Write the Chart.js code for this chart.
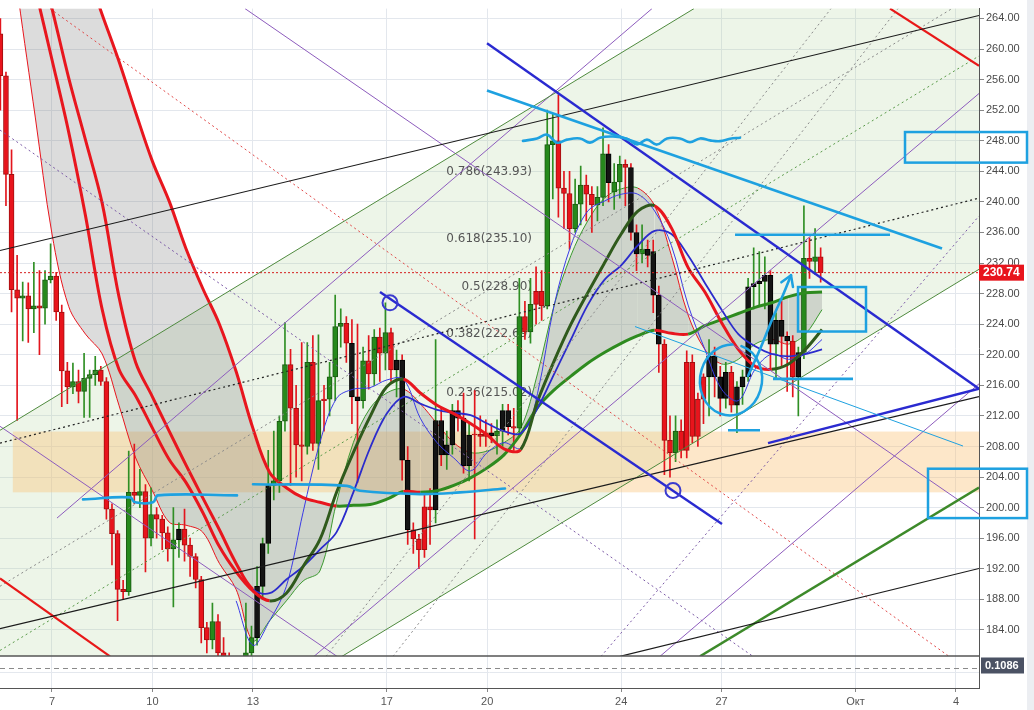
<!DOCTYPE html>
<html><head><meta charset="utf-8">
<script src="https://cdn.jsdelivr.net/npm/chart.js@4.4.1/dist/chart.umd.min.js"></script>
<style>html,body{margin:0;padding:0;background:#fff;overflow:hidden}#wrap{width:1034px;height:710px;position:relative}</style>
</head><body><div id="wrap"><canvas id="c"></canvas></div>
<script>
// ===== DATA =====
// 4-hour candles, first bar 5 Sep 11:00, one bar every 4 hours
const firstBarDay = 5 + 11/24;
const barStepDays = 4/24;
const opens = [262,256.5,243.6,228.5,227.4,227.7,226,226.4,226.1,229.8,
230.3,225.6,217.9,215.8,216.5,215.2,216.9,217.4,218,216.5,
199.8,196.6,189.3,189,202,201.6,202.1,196,199.1,198.5,
196.7,194.6,195.8,197.2,195.1,193.6,190.6,184.3,182.7,185.1,
181,178,175,177,176,181,183,189.7,195.3,202.9,
203.5,211.3,218.7,213,208.2,208,219,208.4,214,214.2,
217.1,223.7,224.1,221.5,214.5,214,219.2,217.5,222.3,220.2,
222.9,218,219.3,206.2,197.1,195.9,194.5,200.1,199.7,211.4,
206.9,208.2,212.7,211.7,205.5,209.5,209.6,209.3,209.8,209.4,
210,212.7,210.6,210.4,225,223,226.6,228.3,226.4,247.5,
248,241.8,241.1,236.5,239.7,242.2,241,239.6,240.6,246.3,
241.3,242.6,244.9,244.5,236,233.2,233.8,233.5,227.8,221.4,
208.8,207.2,210,207.5,219,209.3,214.2,217.1,219.8,217.1,
214.3,217.7,213.4,215.8,217.1,228.9,229.3,229.6,230.4,221.4,
224.5,222.4,221.8,217.1,220.3,232.6,232.2,232.8];
const highs = [264,257,246.8,233,229.5,229.4,232.1,231,231,234.5,
230.8,226.5,219,218.9,218,220.2,218,219.8,218.5,217,
200.5,197,190.5,207.4,208.3,205,203,202.6,200,199,
197.5,200,198,199.8,196,194,191,185,187.5,186,
183,181,179,180,187.5,184.5,192.3,196,207.5,210,
212,224.2,220.7,216,221.6,221.6,222.5,222.6,216,219,
227.8,226,225,224.6,224,221,222.5,223.3,223.5,226.8,
223.5,220.6,220,208,198,196.5,202,202.5,222,213,
210,213.5,214,215,211,215.3,212,211.5,211,211.5,
213.5,213.5,213,230,227,230,231.5,231,252,251.5,
254,244,244,243,244.7,243.5,242,242,249.7,247.5,
245,246,245.5,245,237,237,235,235,229,222,
212,212,211.5,220.5,220,215,217.5,222,221,218.5,
219,218.5,216.5,218,230,234,233.5,232.8,231,225.5,
227,223,222.5,221,239.5,235.3,236.5,234];
const lows = [252,239.5,225.6,211.4,221.8,221.6,222.9,220,224,229.4,
224.5,213.2,213.6,214.9,213.7,211.8,211.8,216,216,198.5,
192.5,185.2,188,188.5,200.5,200,191.6,195,196,194.5,
193,187,193.5,193,191,189.5,182.3,181,181.5,179,
176,172,170,171,175,179,182,188,194,201,
202,210,202.9,204,203.5,207,207.5,205,210,212,
214,221,219,211,203.3,213,215.5,216,216.5,218,
216.5,214.5,203.6,195.2,194,192,193.5,195.2,198,205.5,
205,207,210,204.5,203.5,195.9,208,208,208.5,207,
208,209.5,207.5,209.5,222,221.5,224,224.5,226,240.4,
238,236.5,233.8,236,237,237.5,236,237.5,239.5,240,
239,240.5,239.5,235,231,232,231.5,225.5,217.7,204.3,
204,206,206.5,206.5,208.5,208,211,212,214.5,212,
213,212.5,209.8,213.5,216.5,226,226.5,226,218,217,
218.5,215.2,214.5,212,219.5,230,230.5,229.5];
const closes = [256.5,243.6,228.5,227.4,227.7,226,226.4,226.1,229.8,230.3,
225.6,217.9,215.8,216.5,215.2,216.9,217.4,218,216.5,199.8,
196.6,189.3,189,202,201.6,202.1,196,199.1,198.5,196.7,
194.6,195.8,197.2,195.1,193.6,190.6,184.3,182.7,185.1,181,
178,175,177,176,181,183,189.7,195.3,202.9,203.5,
211.3,218.7,213,208.2,208,219,208.4,214,214.2,217.1,
223.7,224.1,221.5,214.5,214,219.2,217.5,222.3,220.2,222.9,
218,219.3,206.2,197.1,195.9,194.5,200.1,199.7,211.4,206.9,
208.2,212.7,211.7,205.5,209.5,209.6,209.3,209.8,209.4,210,
212.7,210.6,210.4,225,223,226.6,228.3,226.4,247.5,248,
241.8,241.1,236.5,239.7,242.2,241,239.6,240.6,246.3,242.5,
242.6,244.9,244.5,236,233.2,233.8,233,227.8,221.4,208.8,
207.2,210,207.5,219,209.3,214.2,217.1,219.8,217.1,214.3,
217.7,213.4,215.8,217.1,228.9,229.3,229.6,230.4,221.4,224.5,
222.4,221.8,217.1,220.3,232.6,232.2,232.8,230.74];
// bar-colouring signal of the chart's indicator: u = up, d = down, n = neutral
const barSignal = ('ddddududuu' + 'ddduduuudd' + 'dddududud d'.replace(' ','') + 'dundddddud' + 'dduduunnnu' +
  'uudddududuu'.slice(0,10) + 'uudnnududu' + 'dnnnddddnn' + 'nnnnndddnu' + 'nndududduu' +
  'ddduuddu un'.replace(' ','') + 'uudnnunnnd' + 'dudddddnnn' + 'ndnnnnnnnn' + 'nndnudud').split('');

// indicator lines, sampled every 12 h
const lineDays = [5.5,6,6.5,7,7.5,8,8.5,9,9.5,10,10.5,11,11.5,12,12.5,13,13.5,14,14.5,15,15.5,16,16.5,17,17.5,18,18.5,19,19.5,20,20.5,21,21.5,22,22.5,23,23.5,24,24.5,25,25.5,26,26.5,27,27.5,28,28.5,29,29.5,30];
const fastMA = [286.7,277.3,267.9,258.6,249.1,238.2,225.9,218.1,214.6,210.4,206.3,203.3,199.4,194.9,191.6,189.1,187.8,188.8,192.3,195.8,202.0,207.2,211.9,215.8,216.8,215.0,213.4,212.3,211.0,209.5,207.7,207.6,213.9,219.2,224.0,228.1,232.0,235.8,238.8,239.5,236.6,231.4,228.2,224.2,220.7,218.5,218.1,218.8,220.7,223.3];
const midMA = [289.8,282.1,273.7,265.3,256.2,248.1,239.8,227.6,219.0,214.5,210.0,205.6,201.3,197.1,192.7,189.3,188.8,190.6,192.3,194.5,196.8,202.0,207.8,212.3,214.5,213.6,212.8,212.4,212.1,211.0,210.0,209.7,213.0,217.5,222.0,226.5,229.8,231.7,234.3,236.2,235.8,233.0,229.4,225.9,222.7,221.1,220.1,219.8,220.1,220.7];
const slowMA = [302.0,295.9,289.6,283.4,277.0,270.7,264.5,258.4,251.7,245.3,240.1,233.9,228.7,224.0,217.8,210.4,204.6,202.6,201.3,200.7,200.2,200.3,200.4,201.1,202.1,202.0,202.2,202.9,203.9,205.2,206.9,209.6,213.1,215.4,217.2,218.9,220.3,221.5,222.5,223.2,222.8,222.7,223.8,224.6,225.4,226.2,226.8,227.6,228.1,228.2];
const cloudLine = [283.4,266.6,251.1,235.8,226.3,222.7,220.1,213.4,206.5,202.2,198.1,197.7,196.8,192.7,189.3,182.6,185.2,187.8,190.4,191.7,200.7,208.5,213.0,215.0,215.5,213.6,211.0,208.5,207.2,207.4,208.5,210.4,217.5,226.5,233.0,237.5,240.5,241.7,241.8,239.5,233.0,225.2,220.7,218.8,219.4,221.4,222.0,221.4,222.7,225.9];
const thinBlue = [null,null,null,null,null,null,null,null,null,null,null,null,null,null,187.8,182.0,185.2,189.7,199.4,208.5,214.3,215.5,215.7,216.7,216.8,211.7,208.5,206.5,204.8,207.2,208.5,207.8,214.9,226.5,234.3,238.8,240.1,241.0,241.0,238.8,234.3,226.5,220.7,215.5,214.0,218.1,220.1,219.4,220.1,222.0];

// axes
const dayMin = 5.447, dayMax = 34.688;
const priceMin = 176.40, priceMax = 265.29;
const tickDays = [7,10,13,17,20,24,27,31,34];
const tickLabels = ['7','10','13','17','20','24','27','Окт','4'];
const priceTicks = [184,188,192,196,200,204,208,212,216,220,224,228,232,236,240,244,248,252,256,260,264];
const indicatorLast = 0.1086;

// fibonacci retracement
const fibRatios = [0.236,0.382,0.5,0.618,0.786];
const fibPrices = [215.02,222.69,228.90,235.10,243.93];
const fibLabelDay = 21.337;

// drawings [day0, price0, day1, price1]
const blackLines = [[5.447,233.64,34.688,264.39],[5.447,184.16,34.688,214.52],[23.965,180.54,34.688,192.04]];
const greenLines = [[5.447,210.12,26.176,265.29],[15.662,180.54,34.688,231.18]];
const greenThick = [[26.355,180.54,34.688,202.63]];
const purpleLines = [[12.765,265.29,34.688,199.14],[5.447,210.64,15.512,180.54],[7.149,198.63,24.921,265.29],[14.826,180.54,34.688,254.18],[25.160,180.54,34.688,216.20]];
const purpleDotted = [[5.447,249.40,27.938,180.54],[23.398,180.54,34.688,238.16]];
const redDotted = [[6.940,265.29,33.792,180.54]];
const redLines = [[32.030,265.29,34.688,257.80],[5.447,190.75,8.732,180.54]];
const blackDotted = [[5.447,208.44,34.688,240.49]];
const greenDotted = [[5.447,181.31,34.688,259.09]];
const grayDotted = [[5.447,189.71,33.882,265.29],[15.184,180.54,30.268,265.29],[17.185,180.54,32.269,265.29]];
const navyLines = [[16.797,228.21,27.012,197.85],[19.993,260.77,34.688,215.55],[28.386,208.44,34.688,215.55]];
const cyanLines = [[19.993,254.57,33.583,233.90],[27.401,235.70,32.030,235.70],[28.535,216.84,30.925,216.84],[27.191,210.12,28.147,210.12]];
const cyanThin = [[24.413,223.69,34.210,208.06]];
const wavyTopDays = [21.068,21.486,21.785,22.084,22.382,22.770,23.069,23.368,23.756,24.174,24.473,24.771,25.070,25.369,25.757,26.056,26.355,26.654,26.952,27.251,27.550];
const wavyTopPrices = [247.98,248.30,248.80,247.75,248.15,248.30,247.75,248.40,248.55,248.25,247.50,248.15,247.50,248.30,248.30,247.80,248.30,248.05,247.95,248.25,248.40];
const wavyLeftDays = [7.926,9.330,9.479,10.017,10.166,12.526];
const wavyLeftPrices = [201.08,201.34,200.69,200.69,201.60,201.60];
const wavyMidDays = [13.004,15.811,16.200,17.992,19.186,20.530];
const wavyMidPrices = [203.06,202.85,202.20,201.77,201.99,202.50];
const arrowDays = [27.789,28.147,28.506,28.834,29.073];
const arrowPrices = [217.23,220.72,224.59,227.82,230.41];
const circleMarks = [[17.096,226.79],[25.548,202.24]];
const handEllipse = [27.281,216.71,0.926,4.65];
const cyanBoxes = [[32.478,36.122,249.14,245.14],[33.165,36.122,205.09,198.63],[29.282,31.313,228.86,223.04]];
const zoneBox = [5.83,36.5,202.0,209.95];
const channelUpper = greenLines[0], channelLower = greenLines[1];

// ===== STYLE / BUILD =====
const PANE_PX = 32;
const CYAN = '#1ea1e0';
const clipMain = {left:0, top:0, right:0, bottom:-PANE_PX};
const barDays = opens.map((_, i) => firstBarDay + i*barStepDays);
const fillOf = {u:'#26891c', d:'#e8141c', n:'#141414'};
const edgeOf = {u:'#1a5a12', d:'#a01010', n:'#000000'};
const wickOf = (i) => {
  const s = barSignal[i];
  if (s === 'u') return '#2f8f24';
  if (s === 'd') return '#e3151d';
  return closes[i] >= opens[i] ? '#2f8f24' : '#e3151d';
};

const datasets = [];
function addSegs(list, color, width, dash, order) {
  list.forEach(s => datasets.push({type:'line', data:[{x:s[0],y:s[1]},{x:s[2],y:s[3]}],
    borderColor:color, borderWidth:width, borderDash:dash||[], pointRadius:0, tension:0,
    fill:false, clip:clipMain, order}));
}
function addPath(days, prices, color, width, order) {
  datasets.push({type:'line', data:days.map((d,i)=>({x:d,y:prices[i]})), borderColor:color,
    borderWidth:width, pointRadius:0, tension:0.4, fill:false, clip:clipMain, order, borderCapStyle:'round', borderJoinStyle:'round'});
}
// drawings
addSegs(cyanLines, CYAN, 2.6, null, 1);
addSegs(cyanThin, CYAN, 1, null, 1);
addPath(wavyTopDays, wavyTopPrices, CYAN, 2.6, 1);
addPath(wavyLeftDays, wavyLeftPrices, CYAN, 2.6, 1);
addPath(wavyMidDays, wavyMidPrices, CYAN, 2.6, 1);
addPath(arrowDays, arrowPrices, CYAN, 2.6, 1);
addSegs(navyLines, '#2a2ad0', 2.4, null, 2);
addSegs(blackLines, '#1b1b1b', 1.2, null, 3);
addSegs(greenLines, '#4f8a3e', 1, null, 3);
addSegs(greenThick, '#3d8a2a', 2.4, null, 3);
addSegs(purpleLines, '#8d5cbd', 1, null, 3);
addSegs(purpleDotted, '#7b5aa6', 1, [2,3], 3);
addSegs(redDotted, '#e04848', 1, [2,3], 3);
addSegs(redLines, '#e81818', 2.2, null, 3);
addSegs(blackDotted, '#222222', 1.2, [2,3], 3);
addSegs(greenDotted, '#5a9a4a', 1, [2,3], 3);
addSegs(grayDotted, '#8a8a8a', 1, [2,3], 3);
// last price line
addSegs([[dayMin, closes[closes.length-1], dayMax, closes[closes.length-1]]], '#d61e1e', 1, [2,2], 3);

// indicator lines
const pts = arr => lineDays.map((d,i)=>({x:d, y:arr[i]}));
const UP_DARK = '#2f5a1c', UP_GREEN = '#2e8b1f', DOWN_RED = '#e8161e';
datasets.push({type:'line', data:pts(fastMA), borderWidth:3, pointRadius:0, tension:0.35, fill:false, clip:clipMain, order:5,
  segment:{borderColor:c => c.p1.parsed.y >= c.p0.parsed.y ? UP_DARK : DOWN_RED}});
datasets.push({type:'line', data:pts(midMA), borderWidth:2, pointRadius:0, tension:0.35, fill:false, clip:clipMain, order:5,
  segment:{borderColor:c => c.p1.parsed.x <= 13.25 ? DOWN_RED : '#2b2bcc', borderWidth:c => c.p1.parsed.x <= 13.25 ? 3 : 1.8}});
const slowIdx = datasets.length;
datasets.push({type:'line', data:pts(slowMA), borderWidth:3, pointRadius:0, tension:0.35, fill:false, clip:clipMain, order:5,
  segment:{borderColor:c => c.p1.parsed.y >= c.p0.parsed.y ? UP_GREEN : DOWN_RED}});
datasets.push({type:'line', data:pts(thinBlue), borderColor:'#3b3be6', borderWidth:1, pointRadius:0, tension:0.35, fill:false, clip:clipMain, order:5});
// candles
datasets.push({type:'bar', data:barDays.map((d,i)=>({x:d, y:[opens[i], closes[i]]})), grouped:false, barThickness:5, minBarLength:1,
  backgroundColor:c => fillOf[barSignal[c.dataIndex]], borderColor:c => edgeOf[barSignal[c.dataIndex]], borderWidth:1, borderSkipped:false,
  clip:clipMain, order:6});
datasets.push({type:'bar', data:barDays.map((d,i)=>({x:d, y:[lows[i], highs[i]]})), grouped:false, barThickness:1,
  backgroundColor:c => wickOf(c.dataIndex), borderWidth:0, clip:clipMain, order:7});
// cloud line with shaded area to the slow line
datasets.push({type:'line', data:pts(cloudLine), borderWidth:1, pointRadius:0, tension:0.35, clip:clipMain, order:8,
  fill:{target:slowIdx, above:'rgba(120,120,120,0.26)', below:'rgba(120,120,120,0.26)'},
  segment:{borderColor:c => c.p1.parsed.y >= c.p0.parsed.y ? '#3c9a30' : DOWN_RED}});

const annotations = {
  id:'annotations',
  beforeDraw(chart){
    const {ctx, width, height} = chart;
    ctx.save(); ctx.fillStyle = '#fff'; ctx.fillRect(0,0,width,height);
    ctx.fillStyle = '#eceef2'; ctx.fillRect(width-7,0,7,height); ctx.restore();
  },
  beforeDatasetsDraw(chart){
    const {ctx, chartArea:a, scales:{x, y}} = chart;
    const mainBottom = a.bottom - PANE_PX;
    ctx.save();
    ctx.beginPath(); ctx.rect(a.left, a.top, a.right-a.left, mainBottom-a.top); ctx.clip();
    const lineAt = (s, t) => s[1] + (s[3]-s[1])/(s[2]-s[0])*(t - s[0]);
    const L = x.min, R = x.max;
    ctx.beginPath();
    ctx.moveTo(x.getPixelForValue(L), y.getPixelForValue(lineAt(channelUpper, L)));
    ctx.lineTo(x.getPixelForValue(R), y.getPixelForValue(lineAt(channelUpper, R)));
    ctx.lineTo(x.getPixelForValue(R), y.getPixelForValue(lineAt(channelLower, R)));
    ctx.lineTo(x.getPixelForValue(L), y.getPixelForValue(lineAt(channelLower, L)));
    ctx.closePath(); ctx.fillStyle = 'rgba(178,212,160,0.24)'; ctx.fill();
    const [z0, z1, zv0, zv1] = zoneBox;
    const zx0 = x.getPixelForValue(z0), zx1 = x.getPixelForValue(z1), zy0 = y.getPixelForValue(zv1), zy1 = y.getPixelForValue(zv0);
    ctx.fillStyle = 'rgba(250,196,120,0.40)'; ctx.fillRect(zx0, zy0, zx1-zx0, zy1-zy0);
    ctx.font = '12px "DejaVu Sans"'; ctx.fillStyle = '#555'; ctx.textAlign = 'right'; ctx.textBaseline = 'middle';
    fibRatios.forEach((r,i) => ctx.fillText(r + '(' + fibPrices[i].toFixed(2) + ')', x.getPixelForValue(fibLabelDay), y.getPixelForValue(fibPrices[i])));
    ctx.restore();
  },
  afterDatasetsDraw(chart){
    const {ctx, chartArea:a, scales:{x, y}} = chart;
    ctx.save();
    ctx.beginPath(); ctx.rect(a.left, a.top, a.right-a.left, a.bottom-PANE_PX-a.top); ctx.clip();
    ctx.strokeStyle = '#3b3bcf'; ctx.lineWidth = 2;
    circleMarks.forEach(([t,v]) => { ctx.beginPath(); ctx.arc(x.getPixelForValue(t), y.getPixelForValue(v), 7.5, 0, Math.PI*2); ctx.stroke(); });
    const [et, ev, erd, erv] = handEllipse;
    const cx = x.getPixelForValue(et), cy = y.getPixelForValue(ev);
    const rx = x.getPixelForValue(et+erd) - cx, ry = cy - y.getPixelForValue(ev+erv);
    ctx.strokeStyle = CYAN; ctx.lineWidth = 2.5; ctx.lineCap = 'round';
    ctx.beginPath(); ctx.ellipse(cx, cy, rx, ry, 0.15, -1.4, Math.PI*2 - 1.7); ctx.stroke();
    const n = arrowDays.length;
    const px = x.getPixelForValue(arrowDays[n-1]), py = y.getPixelForValue(arrowPrices[n-1]);
    const qx = x.getPixelForValue(arrowDays[n-2]), qy = y.getPixelForValue(arrowPrices[n-2]);
    const ang = Math.atan2(py-qy, px-qx);
    ctx.beginPath();
    [0.55, -0.55].forEach(d => { ctx.moveTo(px, py); ctx.lineTo(px - 12*Math.cos(ang+d), py - 12*Math.sin(ang+d)); });
    ctx.stroke();
    ctx.restore();
  },
  afterDraw(chart){
    const {ctx, chartArea:a, scales:{x, y}} = chart;
    const sepY = a.bottom - PANE_PX;
    ctx.save();
    ctx.strokeStyle = '#e4e8ee'; ctx.lineWidth = 1;
    ctx.beginPath(); ctx.moveTo(a.left, sepY+16.5); ctx.lineTo(a.right, sepY+16.5); ctx.stroke();
    ctx.strokeStyle = '#555'; ctx.lineWidth = 1.5;
    ctx.beginPath(); ctx.moveTo(a.left, sepY); ctx.lineTo(a.right, sepY); ctx.stroke();
    const lvY = sepY + 12.5;
    ctx.strokeStyle = '#8a8a8a'; ctx.lineWidth = 1; ctx.setLineDash([5,4]);
    ctx.beginPath(); ctx.moveTo(a.left, lvY); ctx.lineTo(a.right, lvY); ctx.stroke();
    ctx.setLineDash([]);
    ctx.fillStyle = '#4b5264'; ctx.fillRect(a.right+2, lvY-11, 43, 16);
    ctx.fillStyle = '#fff'; ctx.font = 'bold 11px "Liberation Sans"'; ctx.textAlign = 'left'; ctx.textBaseline = 'middle';
    ctx.fillText(indicatorLast.toFixed(4), a.right+6, lvY-3);
    const last = closes[closes.length-1];
    const pY = y.getPixelForValue(last);
    ctx.fillStyle = '#e8141c'; ctx.fillRect(a.right, pY-8, 45, 16);
    ctx.fillStyle = '#fff'; ctx.font = 'bold 12px "Liberation Sans"';
    ctx.fillText(last.toFixed(2), a.right+4, pY);
    ctx.strokeStyle = CYAN; ctx.lineWidth = 2.5;
    cyanBoxes.forEach(([t0,t1,v0,v1]) => {
      const X0 = x.getPixelForValue(t0), X1 = x.getPixelForValue(t1), Y0 = y.getPixelForValue(v0), Y1 = y.getPixelForValue(v1);
      ctx.strokeRect(X0, Y0, X1-X0, Y1-Y0);
    });
    ctx.restore();
  }
};

Chart.defaults.font.family = '"Liberation Sans", Arial, sans-serif';
new Chart(document.getElementById('c'), {
  type:'line',
  data:{datasets},
  options:{
    responsive:true, maintainAspectRatio:false, animation:false, events:[],
    layout:{padding:0},
    plugins:{legend:{display:false}, tooltip:{enabled:false}},
    scales:{
      x:{type:'linear', min:dayMin, max:dayMax, offset:false,
        afterBuildTicks:s => { s.ticks = tickDays.map(v => ({value:v})); },
        afterFit:s => { s.height = 22; },
        ticks:{autoSkip:false, maxRotation:0, padding:3, color:'#555', font:{size:11},
          callback:v => { const k = tickDays.indexOf(v); return k >= 0 ? tickLabels[k] : ''; }},
        grid:{color:'#e3e7ed', drawTicks:true, tickLength:4, tickColor:'#888', offset:false},
        border:{display:true, color:'#555', width:1}},
      y:{type:'linear', position:'right', min:priceMin, max:priceMax,
        afterBuildTicks:s => { s.ticks = priceTicks.map(v => ({value:v})); },
        afterFit:s => { s.width = 55; },
        ticks:{padding:2, color:'#4a4a4a', font:{size:11}, callback:v => Number(v).toFixed(2)},
        grid:{color:'#e3e7ed', tickLength:5, tickColor:'#888'},
        border:{display:true, color:'#555', width:1}}
    }
  },
  plugins:[annotations]
});
</script></body></html>
